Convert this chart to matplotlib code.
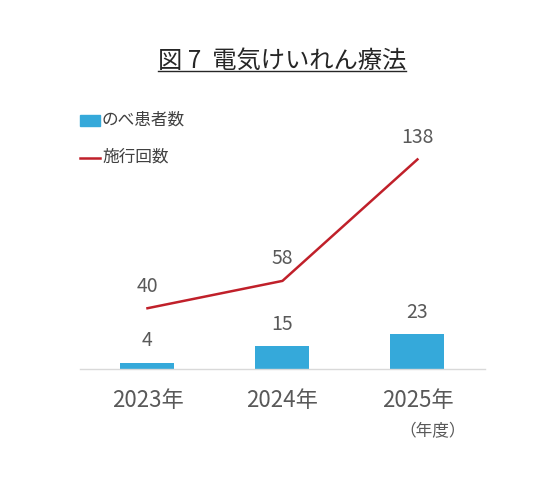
import matplotlib
matplotlib.use('Agg')
import matplotlib.pyplot as plt

plt.rcParams['font.family'] = ['Noto Sans CJK JP', 'DejaVu Sans']

years = ['2023年', '2024年', '2025年']
patients = [4, 15, 23]
sessions = [40, 58, 138]

title = '図 7  電気けいれん療法'
bar_label = 'のべ患者数'
line_label = '施行回数'
unit_label = '（年度）'

bar_color = '#35a9da'
line_color = '#c0202a'
text_gray = '#595959'

fig = plt.figure(figsize=(5.57, 4.89), dpi=100)
ax = fig.add_axes([0.1436, 0.2434, 0.727, 0.559])

x = range(len(years))
ax.bar(x, patients, width=0.4, color=bar_color, zorder=2)
ax.plot(x, sessions, color=line_color, linewidth=1.8, zorder=3)

for i, v in enumerate(patients):
    ax.annotate(str(v), (i, v), xytext=(0, 16.5), textcoords='offset points',
                ha='center', va='center', fontsize=14, color=text_gray)
for i, v in enumerate(sessions):
    ax.annotate(str(v), (i, v), xytext=(0, 16.5), textcoords='offset points',
                ha='center', va='center', fontsize=14, color=text_gray)

ax.set_xlim(-0.5, 2.5)
ax.set_ylim(0, 180)
ax.set_xticks(list(x))
ax.set_xticklabels(years, fontsize=16, color=text_gray)
ax.tick_params(axis='x', length=0, pad=14)
ax.set_yticks([])
for s in ['top', 'right', 'left']:
    ax.spines[s].set_visible(False)
ax.spines['bottom'].set_color('#d9d9d9')
ax.spines['bottom'].set_linewidth(1.0)

fig.text(433 / 557, 1 - 432 / 489, unit_label, ha='center', va='center',
         fontsize=12, color=text_gray)

# タイトル（下線付き）
t = fig.text(282 / 557, 1 - 61 / 489, title, ha='center', va='center',
             fontsize=17.5, color='#262626')
fig.canvas.draw()
bb = t.get_window_extent(renderer=fig.canvas.get_renderer())
uy = 1 - 72 / 489
fig.add_artist(plt.Line2D([bb.x0 / 557, bb.x1 / 557], [uy, uy],
                          transform=fig.transFigure, color='#262626', linewidth=1.0))

# 凡例
fig.add_artist(plt.Rectangle((80 / 557, 1 - 127 / 489), 20 / 557, 11 / 489,
                             transform=fig.transFigure, color=bar_color))
fig.text(102 / 557, 1 - 120 / 489, bar_label, ha='left', va='center',
         fontsize=12, color='#404040')
fig.add_artist(plt.Line2D([80 / 557, 100 / 557], [1 - 159 / 489, 1 - 159 / 489],
                          transform=fig.transFigure, color=line_color, linewidth=1.8))
fig.text(102 / 557, 1 - 157 / 489, line_label, ha='left', va='center',
         fontsize=12, color='#404040')

fig.savefig('out.png', dpi=100)
